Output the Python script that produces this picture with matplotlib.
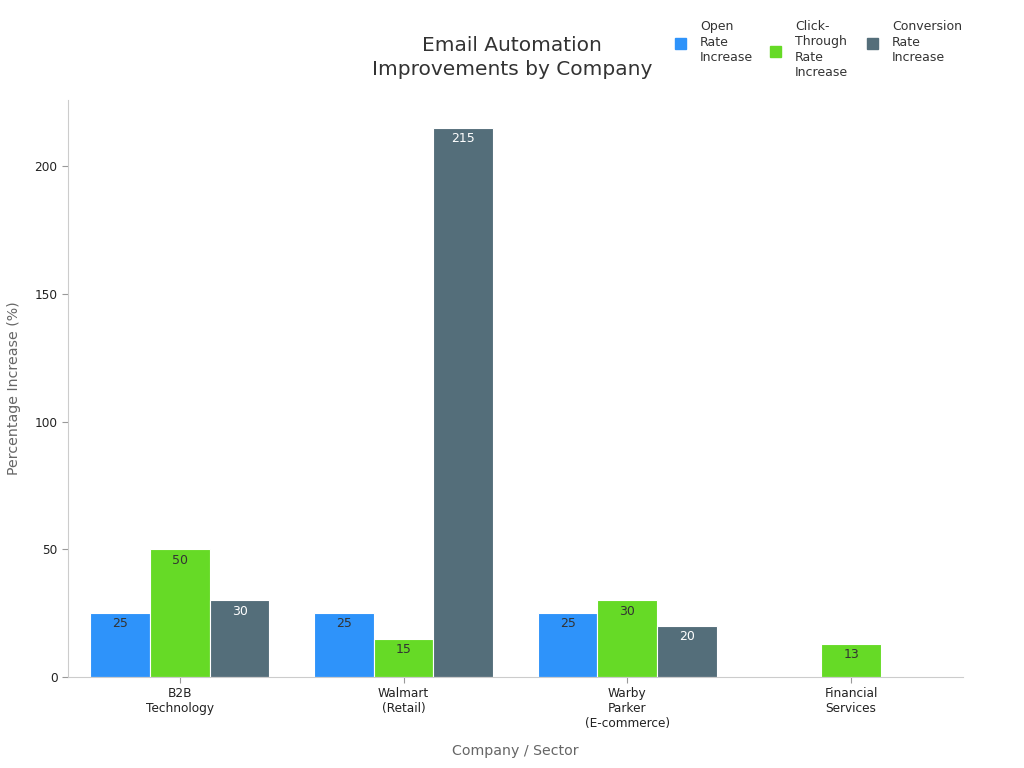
import numpy as np
import matplotlib.pyplot as plt
from matplotlib.patches import Rectangle

companies = ["B2B\nTechnology", "Walmart\n(Retail)", "Warby\nParker\n(E-commerce)", "Financial\nServices"]
open_rate = [25, 25, 25, None]
click_rate = [50, 15, 30, 13]
conv_rate = [30, 215, 20, None]
series_names = ["Open\nRate\nIncrease", "Click-\nThrough\nRate\nIncrease", "Conversion\nRate\nIncrease"]
colors = ["#2E93FA", "#66DA26", "#546E7A"]
label_colors = ["#333333", "#333333", "#ffffff"]

fig = plt.figure(figsize=(10.24, 7.68), dpi=100)
ax = fig.add_axes([0.0664, 0.1185, 0.874, 0.7513])

x = np.arange(len(companies))
w = 0.267
for i, vals in enumerate([open_rate, click_rate, conv_rate]):
    xs = [x[j] + (i - 1) * w for j in range(len(vals)) if vals[j] is not None]
    vs = [v for v in vals if v is not None]
    bars = ax.bar(xs, vs, width=w, color=colors[i], edgecolor="white", linewidth=0.8)
    for b, v in zip(bars, vs):
        ax.text(b.get_x() + b.get_width() / 2, v - 4.2, str(v), ha="center", va="center",
                fontsize=9, color=label_colors[i])

ax.set_xlim(-0.5, 3.5)
ax.set_ylim(0, 226)
ax.set_xticks(x)
ax.set_xticklabels(companies, fontsize=8.7, color="#222222")
ax.set_yticks([0, 50, 100, 150, 200])
ax.tick_params(axis="y", labelsize=8.7, colors="#222222")
ax.tick_params(axis="both", color="#999999", length=4)
for s in ["top", "right"]:
    ax.spines[s].set_visible(False)
for s in ["left", "bottom"]:
    ax.spines[s].set_color("#cccccc")

ax.set_xlabel("Company / Sector", fontsize=10.2, color="#666666", labelpad=9.5)
ax.set_ylabel("Percentage Increase (%)", fontsize=10.2, color="#666666", labelpad=10)

fig.text(0.5, 0.925, "Email Automation\nImprovements by Company", ha="center", va="center",
         fontsize=14.5, color="#333333", linespacing=1.3)

# legend drawn by hand: labels top-aligned, marker at middle of each label
W, H = 1024, 768
leg_x = [680, 775, 872]
for i, name in enumerate(series_names):
    nlines = name.count("\n") + 1
    top = 20
    mid = top + nlines * 15.5 / 2
    fig.patches.append(Rectangle(((leg_x[i] - 5.5) / W, 1 - (mid + 5.5) / H), 11 / W, 11 / H,
                                 transform=fig.transFigure, color=colors[i]))
    fig.text((leg_x[i] + 20) / W, 1 - top / H, name, ha="left", va="top", fontsize=9,
             color="#333333", linespacing=1.25)

fig.savefig("out.png", dpi=100)
